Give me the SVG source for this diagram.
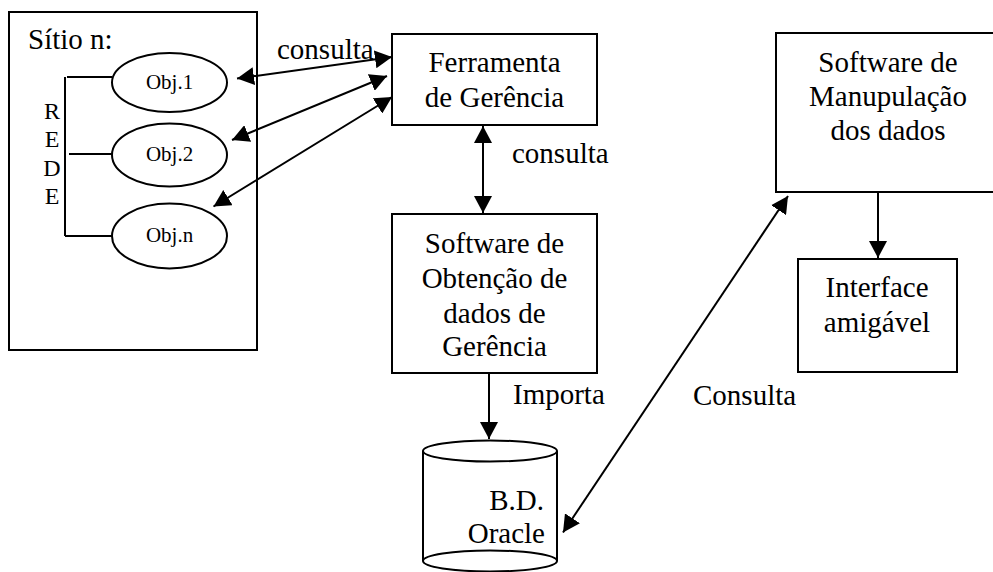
<svg xmlns="http://www.w3.org/2000/svg" width="993" height="572" viewBox="0 0 993 572" font-family="'Liberation Serif', 'Times New Roman', 'DejaVu Serif', serif">
<style>
text{font-family:'Liberation Serif','Times New Roman','DejaVu Serif',serif;fill:#000}
.t{font-size:29px}
.c{text-anchor:middle}
.o{font-size:21px;text-anchor:middle}
.r{font-size:24px;text-anchor:middle}
.b{fill:#fff;stroke:#000;stroke-width:2}
.l{fill:none;stroke:#000;stroke-width:2}
.a{fill:none;stroke:#000;stroke-width:2;marker-end:url(#ah)}
.d{fill:none;stroke:#000;stroke-width:2;marker-start:url(#ah);marker-end:url(#ah)}
</style>
<defs>
<marker id="ah" markerUnits="userSpaceOnUse" markerWidth="18" markerHeight="18" refX="17" refY="9" orient="auto-start-reverse" viewBox="0 0 18 18">
<path d="M0,0 L17,9 L0,18 z" fill="#000"/>
</marker>
</defs>
<rect width="993" height="572" fill="#fff"/>

<g id="sitio">
<rect class="b" x="9" y="12" width="248" height="338"/>
<text class="t" x="28" y="49">Sítio n:</text>
<path class="l" d="M65,77 V236 M67,77 H112 M69,154 H112 M65,236 H112"/>
<text class="r" x="52" y="119">R</text>
<text class="r" x="52" y="147">E</text>
<text class="r" x="52" y="176">D</text>
<text class="r" x="52" y="204">E</text>
</g>
<g id="obj1">
<ellipse class="b" cx="169.5" cy="82.5" rx="57.5" ry="29.5"/>
<text class="o" x="169.5" y="89">Obj.1</text>
</g>
<g id="obj2">
<ellipse class="b" cx="169.5" cy="155" rx="57.5" ry="31.5"/>
<text class="o" x="169.5" y="161">Obj.2</text>
</g>
<g id="objn">
<ellipse class="b" cx="169.5" cy="236" rx="57.5" ry="32.5"/>
<text class="o" x="169.5" y="242">Obj.n</text>
</g>

<g id="ferramenta">
<rect class="b" x="392" y="34" width="205" height="91"/>
<text class="t c" x="494.5" y="72">Ferramenta</text>
<text class="t c" x="494.5" y="107">de Gerência</text>
</g>

<g id="obtencao">
<rect class="b" x="392" y="214" width="205" height="159"/>
<text class="t c" x="494.5" y="253">Software de</text>
<text class="t c" x="494.5" y="288">Obtenção de</text>
<text class="t c" x="494.5" y="323">dados de</text>
<text class="t c" x="494.5" y="356">Gerência</text>
</g>

<g id="oracle">
<path class="b" d="M423,451 V561 A67,10.5 0 0 0 557,561 V451"/>
<ellipse class="b" cx="490" cy="451" rx="67" ry="10.5"/>
<path class="l" d="M423,561 A67,10.5 0 0 1 557,561"/>
<text class="t" x="544" y="510" text-anchor="end">B.D.</text>
<text class="t" x="545" y="543" text-anchor="end">Oracle</text>
</g>

<g id="manipulacao">
<rect class="b" x="776" y="33" width="224" height="159"/>
<text class="t c" x="888" y="72">Software de</text>
<text class="t c" x="888" y="106">Manupulação</text>
<text class="t c" x="888" y="140">dos dados</text>
</g>

<g id="interface">
<rect class="b" x="798" y="259" width="159" height="113"/>
<text class="t c" x="877" y="297">Interface</text>
<text class="t c" x="877" y="332">amigável</text>
</g>

<g id="connectors">
<line class="d" x1="237" y1="78.5" x2="392" y2="57"/>
<line class="d" x1="232" y1="140" x2="387" y2="76"/>
<line class="d" x1="213.5" y1="206.5" x2="392" y2="97"/>
<line class="d" x1="483" y1="126" x2="483" y2="213"/>
<line class="a" x1="489" y1="374" x2="489" y2="439"/>
<line class="d" x1="563" y1="532.5" x2="788" y2="196"/>
<line class="a" x1="878" y1="193" x2="878" y2="258"/>
<text class="t" x="277" y="59">consulta</text>
<text class="t" x="512" y="163">consulta</text>
<text class="t" x="513" y="404">Importa</text>
<text class="t" x="693" y="405">Consulta</text>
</g>
</svg>
